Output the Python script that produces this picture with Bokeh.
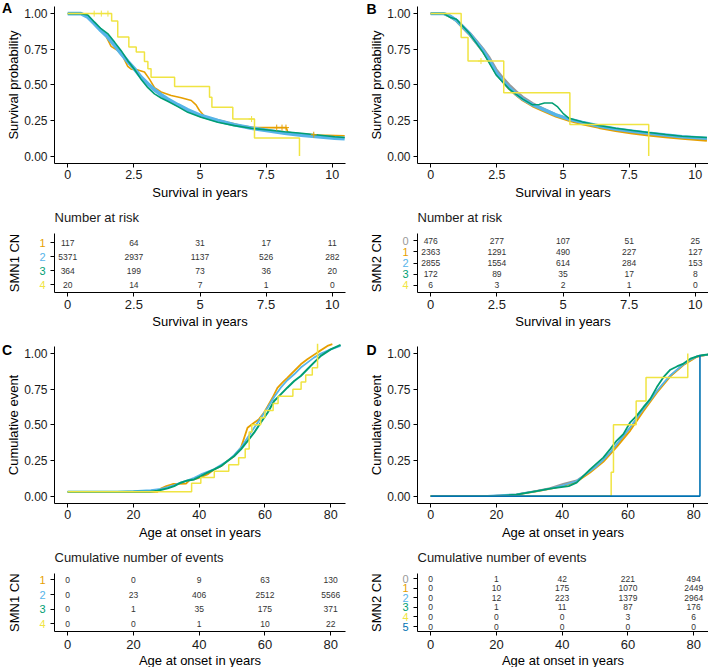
import math
from bokeh.plotting import figure
from bokeh.models import Range1d, FixedTicker, ColumnDataSource, CustomJSTickFormatter, PrintfTickFormatter
from bokeh.layouts import column, row
from bokeh.embed import file_html
from bokeh.resources import INLINE
from bokeh.core.properties import value

FONT = "Liberation Sans"
ORANGE = "#E69F00"; SKY = "#56B4E9"; GREEN = "#009E73"; YELLOW = "#F0E442"; GRAY = "#999999"; BLUE = "#0072B2"

# ---------------- Panel A: survival by SMN1 CN ----------------
a1_t = [0, 0.55, 0.8, 1.0, 1.13, 1.26, 1.45, 1.64, 1.89, 2.08, 2.27, 2.4, 2.65, 2.9, 3.09, 3.28, 3.53, 3.91, 4.29, 4.67, 4.85, 4.98, 5.17, 5.55, 6.05, 6.56, 7.06, 8.26, 8.32, 8.83, 9.46, 10.47]
a1_s = [1.0, 1.0, 0.975, 0.94, 0.91, 0.88, 0.84, 0.77, 0.74, 0.70, 0.63, 0.61, 0.605, 0.59, 0.54, 0.48, 0.45, 0.425, 0.41, 0.39, 0.36, 0.32, 0.28, 0.26, 0.237, 0.214, 0.20, 0.20, 0.167, 0.155, 0.148, 0.143]
a2_t = [0, 0.5, 0.76, 1.01, 1.26, 1.51, 1.77, 2.02, 2.27, 2.52, 2.77, 3.03, 3.28, 3.53, 3.78, 4.16, 4.54, 5.04, 5.67, 6.3, 6.94, 7.57, 8.2, 8.83, 9.46, 10.09, 10.47]
a2_s = [1.0, 1.0, 0.976, 0.93, 0.88, 0.836, 0.777, 0.72, 0.664, 0.613, 0.554, 0.507, 0.465, 0.43, 0.40, 0.36, 0.324, 0.284, 0.249, 0.22, 0.197, 0.178, 0.162, 0.148, 0.136, 0.127, 0.122]
a3_t = [0, 0.5, 0.76, 1.01, 1.26, 1.51, 1.77, 2.02, 2.27, 2.52, 2.77, 3.03, 3.28, 3.53, 3.78, 4.16, 4.54, 5.04, 5.67, 6.3, 6.94, 7.57, 8.2, 8.83, 9.46, 10.09, 10.47]
a3_s = [1.0, 1.0, 0.99, 0.94, 0.894, 0.86, 0.80, 0.74, 0.67, 0.61, 0.54, 0.48, 0.437, 0.408, 0.385, 0.347, 0.307, 0.272, 0.237, 0.214, 0.195, 0.183, 0.171, 0.16, 0.148, 0.136, 0.131]
a4_t = [0, 1.66, 1.89, 2.31, 2.59, 2.90, 3.03, 3.15, 4.04, 5.36, 5.45, 6.24, 7.06, 8.76]
a4_s = [1.0, 0.948, 0.836, 0.765, 0.73, 0.664, 0.613, 0.554, 0.488, 0.413, 0.343, 0.26, 0.127, 0.0]
a4_cens_t = [1.0, 1.27, 1.52, 6.95]
a4_cens_s = [1.0, 1.0, 1.0, 0.26]
a1_cens_t = [7.9, 8.1, 8.25, 9.3]
a1_cens_s = [0.2, 0.2, 0.2, 0.15]

# ---------------- Panel B: survival by SMN2 CN ----------------
b_t = [0, 0.5, 0.72, 0.97, 1.22, 1.47, 1.72, 1.97, 2.22, 2.47, 2.72, 2.97, 3.22, 3.48, 3.85, 4.23, 4.73, 5.23, 5.73, 6.36, 6.99, 7.62, 8.24, 8.87, 9.5, 10.44]
b0_s = [1.0, 1.0, 0.985, 0.955, 0.91, 0.865, 0.81, 0.755, 0.69, 0.61, 0.55, 0.50, 0.455, 0.415, 0.37, 0.335, 0.29, 0.258, 0.235, 0.208, 0.187, 0.17, 0.156, 0.143, 0.13, 0.117]
b1_s = [1.0, 1.0, 0.98, 0.95, 0.90, 0.852, 0.795, 0.735, 0.665, 0.585, 0.525, 0.472, 0.43, 0.393, 0.352, 0.32, 0.28, 0.25, 0.226, 0.2, 0.178, 0.16, 0.147, 0.135, 0.123, 0.11]
b2_s = [1.0, 1.0, 0.983, 0.953, 0.906, 0.859, 0.80, 0.742, 0.671, 0.589, 0.53, 0.479, 0.437, 0.40, 0.36, 0.33, 0.289, 0.26, 0.237, 0.211, 0.19, 0.174, 0.16, 0.148, 0.136, 0.124]
b3_t = [0, 0.5, 0.72, 0.97, 1.22, 1.47, 1.72, 1.97, 2.22, 2.47, 2.72, 2.97, 3.22, 3.48, 3.85, 4.1, 4.3, 4.6, 4.8, 5.0, 5.23, 5.73, 6.36, 6.99, 7.62, 8.24, 8.87, 9.5, 10.44]
b3_s = [1.0, 1.0, 0.975, 0.96, 0.91, 0.86, 0.795, 0.73, 0.65, 0.57, 0.52, 0.47, 0.435, 0.40, 0.36, 0.362, 0.373, 0.372, 0.345, 0.30, 0.265, 0.24, 0.215, 0.195, 0.18, 0.165, 0.152, 0.14, 0.13]
b4_t = [0, 1.15, 1.41, 2.76, 5.26, 8.24]
b4_s = [1.0, 0.833, 0.667, 0.444, 0.222, 0.0]
b4_cens_t = [1.9]
b4_cens_s = [0.667]

# ---------------- Panel C: cumulative onset by SMN1 CN ----------------
c1_t = [0, 27.3, 28.5, 30, 32, 36, 37, 39.5, 42.5, 44.5, 46.6, 48.6, 50.6, 52.7, 53.7, 54.7, 56.7, 58.2, 59.7, 60.8, 62.3, 63.8, 65.3, 66.8, 68.9, 70.9, 72.9, 75.9, 79, 80.5]
c1_s = [0.03, 0.03, 0.055, 0.07, 0.085, 0.088, 0.11, 0.124, 0.152, 0.187, 0.21, 0.246, 0.28, 0.34, 0.41, 0.48, 0.515, 0.54, 0.585, 0.63, 0.69, 0.76, 0.796, 0.83, 0.878, 0.925, 0.96, 1.007, 1.054, 1.066]
c2_t = [0, 15, 20, 25.3, 28.4, 30.4, 32.4, 34.4, 36.5, 38.5, 40.5, 42.5, 44.6, 46.6, 48.6, 50.6, 52.7, 54.7, 56.7, 58.7, 60.8, 62.8, 64.8, 66.8, 68.9, 70.9, 72.9, 74.9, 77, 80, 83]
c2_s = [0.03, 0.03, 0.035, 0.042, 0.05, 0.063, 0.077, 0.094, 0.11, 0.129, 0.152, 0.171, 0.19, 0.218, 0.246, 0.288, 0.34, 0.41, 0.48, 0.546, 0.62, 0.696, 0.761, 0.813, 0.855, 0.902, 0.937, 0.972, 1.0, 1.03, 1.054]
c3_t = [0, 25, 27.3, 30.4, 32.4, 34.4, 36.5, 38.5, 40.5, 42.5, 44.6, 46.6, 48.6, 50.6, 52.7, 54.7, 56.7, 58.7, 60.8, 62.8, 64.8, 66.8, 68.9, 70.9, 72.9, 74.9, 77, 80, 83]
c3_s = [0.03, 0.03, 0.037, 0.054, 0.07, 0.094, 0.11, 0.117, 0.14, 0.164, 0.187, 0.21, 0.246, 0.28, 0.328, 0.386, 0.445, 0.515, 0.585, 0.667, 0.714, 0.761, 0.808, 0.843, 0.89, 0.937, 0.984, 1.03, 1.061]
c4_t = [0, 37.7, 40.5, 44.6, 49, 52, 54, 55.2, 56, 58.7, 60, 62.5, 64, 68.5, 71, 72.4, 74.4, 76]
c4_s = [0.03, 0.09, 0.13, 0.175, 0.22, 0.27, 0.33, 0.45, 0.5, 0.55, 0.6, 0.65, 0.7, 0.75, 0.8, 0.85, 0.9, 1.07]

# ---------------- Panel D: cumulative onset by SMN2 CN ----------------
d0_t = [0, 18, 26.1, 32.2, 36.3, 40.3, 44.4, 48.5, 52.5, 56.6, 60.7, 64.7, 68.8, 72.9, 76.9, 81, 84.9]
d0_s = [0, 0, 0.012, 0.036, 0.056, 0.085, 0.11, 0.175, 0.25, 0.36, 0.48, 0.61, 0.735, 0.845, 0.925, 0.98, 0.995]
d1_t = [0, 18, 26.1, 32.2, 36.3, 40.3, 44.4, 48.5, 52.5, 56.6, 60.7, 64.7, 68.8, 72.9, 76.9, 81, 84.9]
d1_s = [0, 0, 0.01, 0.033, 0.05, 0.072, 0.1, 0.165, 0.24, 0.345, 0.46, 0.595, 0.725, 0.84, 0.92, 0.978, 0.995]
d2_t = [0, 16, 21, 26.1, 29.2, 32.2, 36.3, 40.3, 44.4, 46.4, 48.5, 50.5, 52.5, 54.6, 56.6, 58.6, 60.7, 62.7, 64.7, 66.8, 68.8, 70.8, 72.9, 74.9, 76.9, 79, 81, 84.9]
d2_s = [0, 0, 0.007, 0.012, 0.024, 0.035, 0.052, 0.075, 0.106, 0.14, 0.176, 0.21, 0.254, 0.306, 0.365, 0.424, 0.482, 0.548, 0.612, 0.675, 0.736, 0.793, 0.847, 0.887, 0.925, 0.958, 0.981, 0.995]
d3_t = [0, 20, 26.1, 32.2, 36.3, 40.3, 42, 44.4, 46.4, 48.5, 52.5, 54.6, 56.6, 58.6, 60.7, 62.7, 64.7, 66.8, 68.8, 70.8, 72.9, 74.9, 76.9, 79, 82, 84.9]
d3_s = [0, 0, 0.01, 0.035, 0.052, 0.065, 0.07, 0.094, 0.14, 0.188, 0.27, 0.33, 0.39, 0.435, 0.518, 0.565, 0.624, 0.682, 0.765, 0.835, 0.887, 0.91, 0.93, 0.965, 0.988, 0.995]
d4_t = [0, 54.9, 55.6, 62.5, 65.5, 78.2]
d4_s = [0, 0.167, 0.5, 0.667, 0.833, 1.0]
d5_t = [0, 81.9]
d5_s = [0, 0.988]

# ---------------- Risk tables ----------------
surv_ticks = [0, 2.5, 5, 7.5, 10]
age_ticks = [0, 20, 40, 60, 80]
prob_ticks = [0, 0.25, 0.5, 0.75, 1.0]

smn1_groups = ["1", "2", "3", "4"]
smn1_colors = [ORANGE, SKY, GREEN, YELLOW]
smn2_groups_b = ["0", "1", "2", "3", "4"]
smn2_colors_b = [GRAY, ORANGE, SKY, GREEN, YELLOW]
smn2_groups_d = ["0", "1", "2", "3", "4", "5"]
smn2_colors_d = [GRAY, ORANGE, SKY, GREEN, YELLOW, BLUE]

risk_a = [[117, 64, 31, 17, 11],
          [5371, 2937, 1137, 526, 282],
          [364, 199, 73, 36, 20],
          [20, 14, 7, 1, 0]]
risk_b = [[476, 277, 107, 51, 25],
          [2363, 1291, 490, 227, 127],
          [2855, 1554, 614, 284, 153],
          [172, 89, 35, 17, 8],
          [6, 3, 2, 1, 0]]
events_c = [[0, 0, 9, 63, 130],
            [0, 23, 406, 2512, 5566],
            [0, 1, 35, 175, 371],
            [0, 0, 1, 10, 22]]
events_d = [[0, 1, 42, 221, 494],
            [0, 10, 175, 1070, 2449],
            [0, 12, 223, 1379, 2964],
            [0, 1, 11, 87, 176],
            [0, 0, 0, 3, 6],
            [0, 0, 0, 0, 0]]

TXT = "#1a1a1a"

# ---- layout geometry (pixels, local to each figure) ----
W = 354
COLX = {True: (54, 345), False: (63, 354)}     # axis-line x and right end of data area


def make_fig(left_col, H, xr, yr, sy_top, sy_bot):
    """Whole figure is the frame; data area xr x yr is mapped to the given pixel box."""
    sx0, sx1 = COLX[left_col]
    kx = (sx1 - sx0) / (xr[1] - xr[0])
    x_start = xr[0] - sx0 / kx
    x_end = xr[1] + (W - sx1) / kx
    y_bot, y_top = yr
    ky = (sy_bot - sy_top) / (y_top - y_bot)
    y_start = y_bot - (H - sy_bot) / ky
    y_end = y_top + sy_top / ky
    p = figure(width=W, height=H, min_border=0, title=None,
               x_range=Range1d(x_start, x_end), y_range=Range1d(y_start, y_end),
               output_backend="svg", toolbar_location=None)
    p.xgrid.visible = False
    p.ygrid.visible = False
    p.outline_line_color = None
    p.background_fill_color = "white"
    p.border_fill_color = "white"
    for ax in (p.xaxis[0], p.yaxis[0]):
        ax.axis_line_color = "black"
        ax.axis_line_width = 1
        ax.major_tick_line_color = "black"
        ax.major_tick_in = 0
        ax.major_tick_out = 4
        ax.minor_tick_line_color = None
        ax.major_label_text_font = FONT
        ax.major_label_text_color = TXT
        ax.major_label_standoff = 3
        ax.axis_label = None
    p.xaxis[0].fixed_location = y_bot
    p.xaxis[0].bounds = (xr[0], xr[1])
    p.yaxis[0].fixed_location = xr[0]
    p.yaxis[0].bounds = (min(yr), max(yr))
    return p


def add_text(p, x, y, text, size="13px", color="black", align="center", baseline="middle",
             dx=0, dy=0, angle=0.0, bold=False):
    p.text(x=[x], y=[y], text=[text], x_offset=dx, y_offset=dy, angle=angle,
           text_font=value(FONT), text_font_size=size, text_color=color,
           text_align=align, text_baseline=baseline,
           text_font_style="bold" if bold else "normal")


def panel(left_col, H, xr, yr, sy_top, sy_bot, xticks, xlabel, ylabel, letter, letter_dx, letter_dy):
    p = make_fig(left_col, H, xr, yr, sy_top, sy_bot)
    p.xaxis[0].ticker = FixedTicker(ticks=xticks)
    p.xaxis[0].formatter = CustomJSTickFormatter(code="return String(tick);")
    p.xaxis[0].major_label_text_font_size = "12.5px"
    p.xaxis[0].major_label_standoff = 2
    p.yaxis[0].ticker = FixedTicker(ticks=prob_ticks)
    p.yaxis[0].formatter = PrintfTickFormatter(format="%.2f")
    p.yaxis[0].major_label_text_font_size = "12px"
    p.yaxis[0].major_label_standoff = 3
    add_text(p, (xr[0] + xr[1]) / 2, yr[0], xlabel, dy=28.5)
    add_text(p, xr[0], (yr[0] + yr[1]) / 2, ylabel, dx=-41.5, angle=math.pi / 2)
    add_text(p, xr[0], yr[1], letter, size="14px", align="left", dx=letter_dx, dy=letter_dy, bold=True)
    return p


def table(left_col, H, xr, yr, sy_top, sy_bot, xticks, xlabel, ylabel, title, groups, colors, values, ydx):
    p = make_fig(left_col, H, xr, yr, sy_top, sy_bot)
    p.xaxis[0].ticker = FixedTicker(ticks=xticks)
    p.xaxis[0].formatter = CustomJSTickFormatter(code="return String(tick);")
    p.xaxis[0].major_label_text_font_size = "13px"
    p.xaxis[0].major_label_standoff = 4
    rows = list(range(len(groups)))
    if groups[0] == "1":
        rows = [r + 1 for r in rows]
    p.yaxis[0].ticker = FixedTicker(ticks=rows)
    p.yaxis[0].formatter = CustomJSTickFormatter(code="return '';")
    xs, ys, ts = [], [], []
    for r, vals in zip(rows, values):
        for xv, v in zip(xticks, vals):
            xs.append(xv); ys.append(r); ts.append(str(v))
    src = ColumnDataSource(dict(x=xs, y=ys, t=ts))
    p.text(x="x", y="y", text="t", source=src, text_align="center", text_baseline="middle",
           text_font=value(FONT), text_font_size="8.5px", text_color="#333333")
    gsrc = ColumnDataSource(dict(x=[xr[0]] * len(rows), y=rows, t=groups, c=colors))
    p.text(x="x", y="y", text="t", text_color="c", source=gsrc, x_offset=-9,
           text_align="right", text_baseline="middle",
           text_font=value(FONT), text_font_size="11px")
    add_text(p, (xr[0] + xr[1]) / 2, yr[0], xlabel, dy=29)
    add_text(p, xr[0], (yr[0] + yr[1]) / 2, ylabel, dx=ydx, angle=math.pi / 2)
    add_text(p, xr[0], yr[1], title, color=TXT, align="left", dy=-16.5)
    return p


SXR = (-0.5, 10.5)
AXR = (-4.0, 84.5)
PYR = (-0.052, 1.05)

# Row 1: panels A, B  (height 205)
pA = panel(True, 205, SXR, PYR, 6, 163, surv_ticks, "Survival in years", "Survival probability", "A", -52.5, 1.5)
pA.line(a1_t, a1_s, line_color=ORANGE, line_width=1.6)
pA.line(a2_t, a2_s, line_color=SKY, line_width=3.8)
pA.line(a3_t, a3_s, line_color=GREEN, line_width=1.6)
pA.step(a4_t, a4_s, mode="after", line_color=YELLOW, line_width=1.5)
pA.scatter(a4_cens_t, a4_cens_s, marker="cross", size=6, line_color=YELLOW, line_width=1)
pA.scatter(a1_cens_t, a1_cens_s, marker="cross", size=6, line_color=ORANGE, line_width=1)

pB = panel(False, 205, SXR, PYR, 6, 163, surv_ticks, "Survival in years", "Survival probability", "B", -51, 2)
pB.line(b_t, b0_s, line_color=GRAY, line_width=2.6)
pB.line(b_t, b1_s, line_color=ORANGE, line_width=2.6)
pB.line(b_t, b2_s, line_color=SKY, line_width=3.4)
pB.line(b3_t, b3_s, line_color=GREEN, line_width=1.5)
pB.step(b4_t, b4_s, mode="after", line_color=YELLOW, line_width=1.5)
pB.scatter(b4_cens_t, b4_cens_s, marker="cross", size=6, line_color=YELLOW, line_width=1)

# Row 2: tables (height 137)
tA = table(True, 137, SXR, (4.55, 0.353), 28.3, 86.7, surv_ticks, "Survival in years", "SMN1 CN",
           "Number at risk", smn1_groups, smn1_colors, risk_a, -40)
tB = table(False, 137, SXR, (4.6, -0.6), 28.3, 86.7, surv_ticks, "Survival in years", "SMN2 CN",
           "Number at risk", smn2_groups_b, smn2_colors_b, risk_b, -41.5)

# Row 3: panels C, D (height 203)
pC = panel(True, 203, AXR, PYR, 4, 161, age_ticks, "Age at onset in years", "Cumulative event", "C", -52.5, 3.5)
pC.line(c1_t, c1_s, line_color=ORANGE, line_width=1.8)
pC.line(c2_t, c2_s, line_color=SKY, line_width=1.8)
pC.line(c3_t, c3_s, line_color=GREEN, line_width=2.0)
pC.step(c4_t, c4_s, mode="after", line_color=YELLOW, line_width=1.5)

pD = panel(False, 203, AXR, PYR, 4, 161, age_ticks, "Age at onset in years", "Cumulative event", "D", -51, 3)
pD.line(d0_t, d0_s, line_color=GRAY, line_width=1.8)
pD.line(d1_t, d1_s, line_color=ORANGE, line_width=1.8)
pD.line(d2_t, d2_s, line_color=SKY, line_width=1.8)
pD.line(d3_t, d3_s, line_color=GREEN, line_width=1.8)
pD.step(d4_t, d4_s, mode="after", line_color=YELLOW, line_width=1.5)
pD.step(d5_t, d5_s, mode="after", line_color=BLUE, line_width=1.6)

# Row 4: tables (height 122)
tC = table(True, 122, AXR, (4.52, 0.59), 28.3, 86, age_ticks, "Age at onset in years", "SMN1 CN",
           "Cumulative number of events", smn1_groups, smn1_colors, events_c, -40)
tD = table(False, 122, AXR, (5.52, -0.52), 28.3, 86, age_ticks, "Age at onset in years", "SMN2 CN",
           "Cumulative number of events", smn2_groups_d, smn2_colors_d, events_d, -41.5)

layout = column(row(pA, pB), row(tA, tB), row(pC, pD), row(tC, tD))
open("out.html", "w").write(file_html(layout, INLINE))
